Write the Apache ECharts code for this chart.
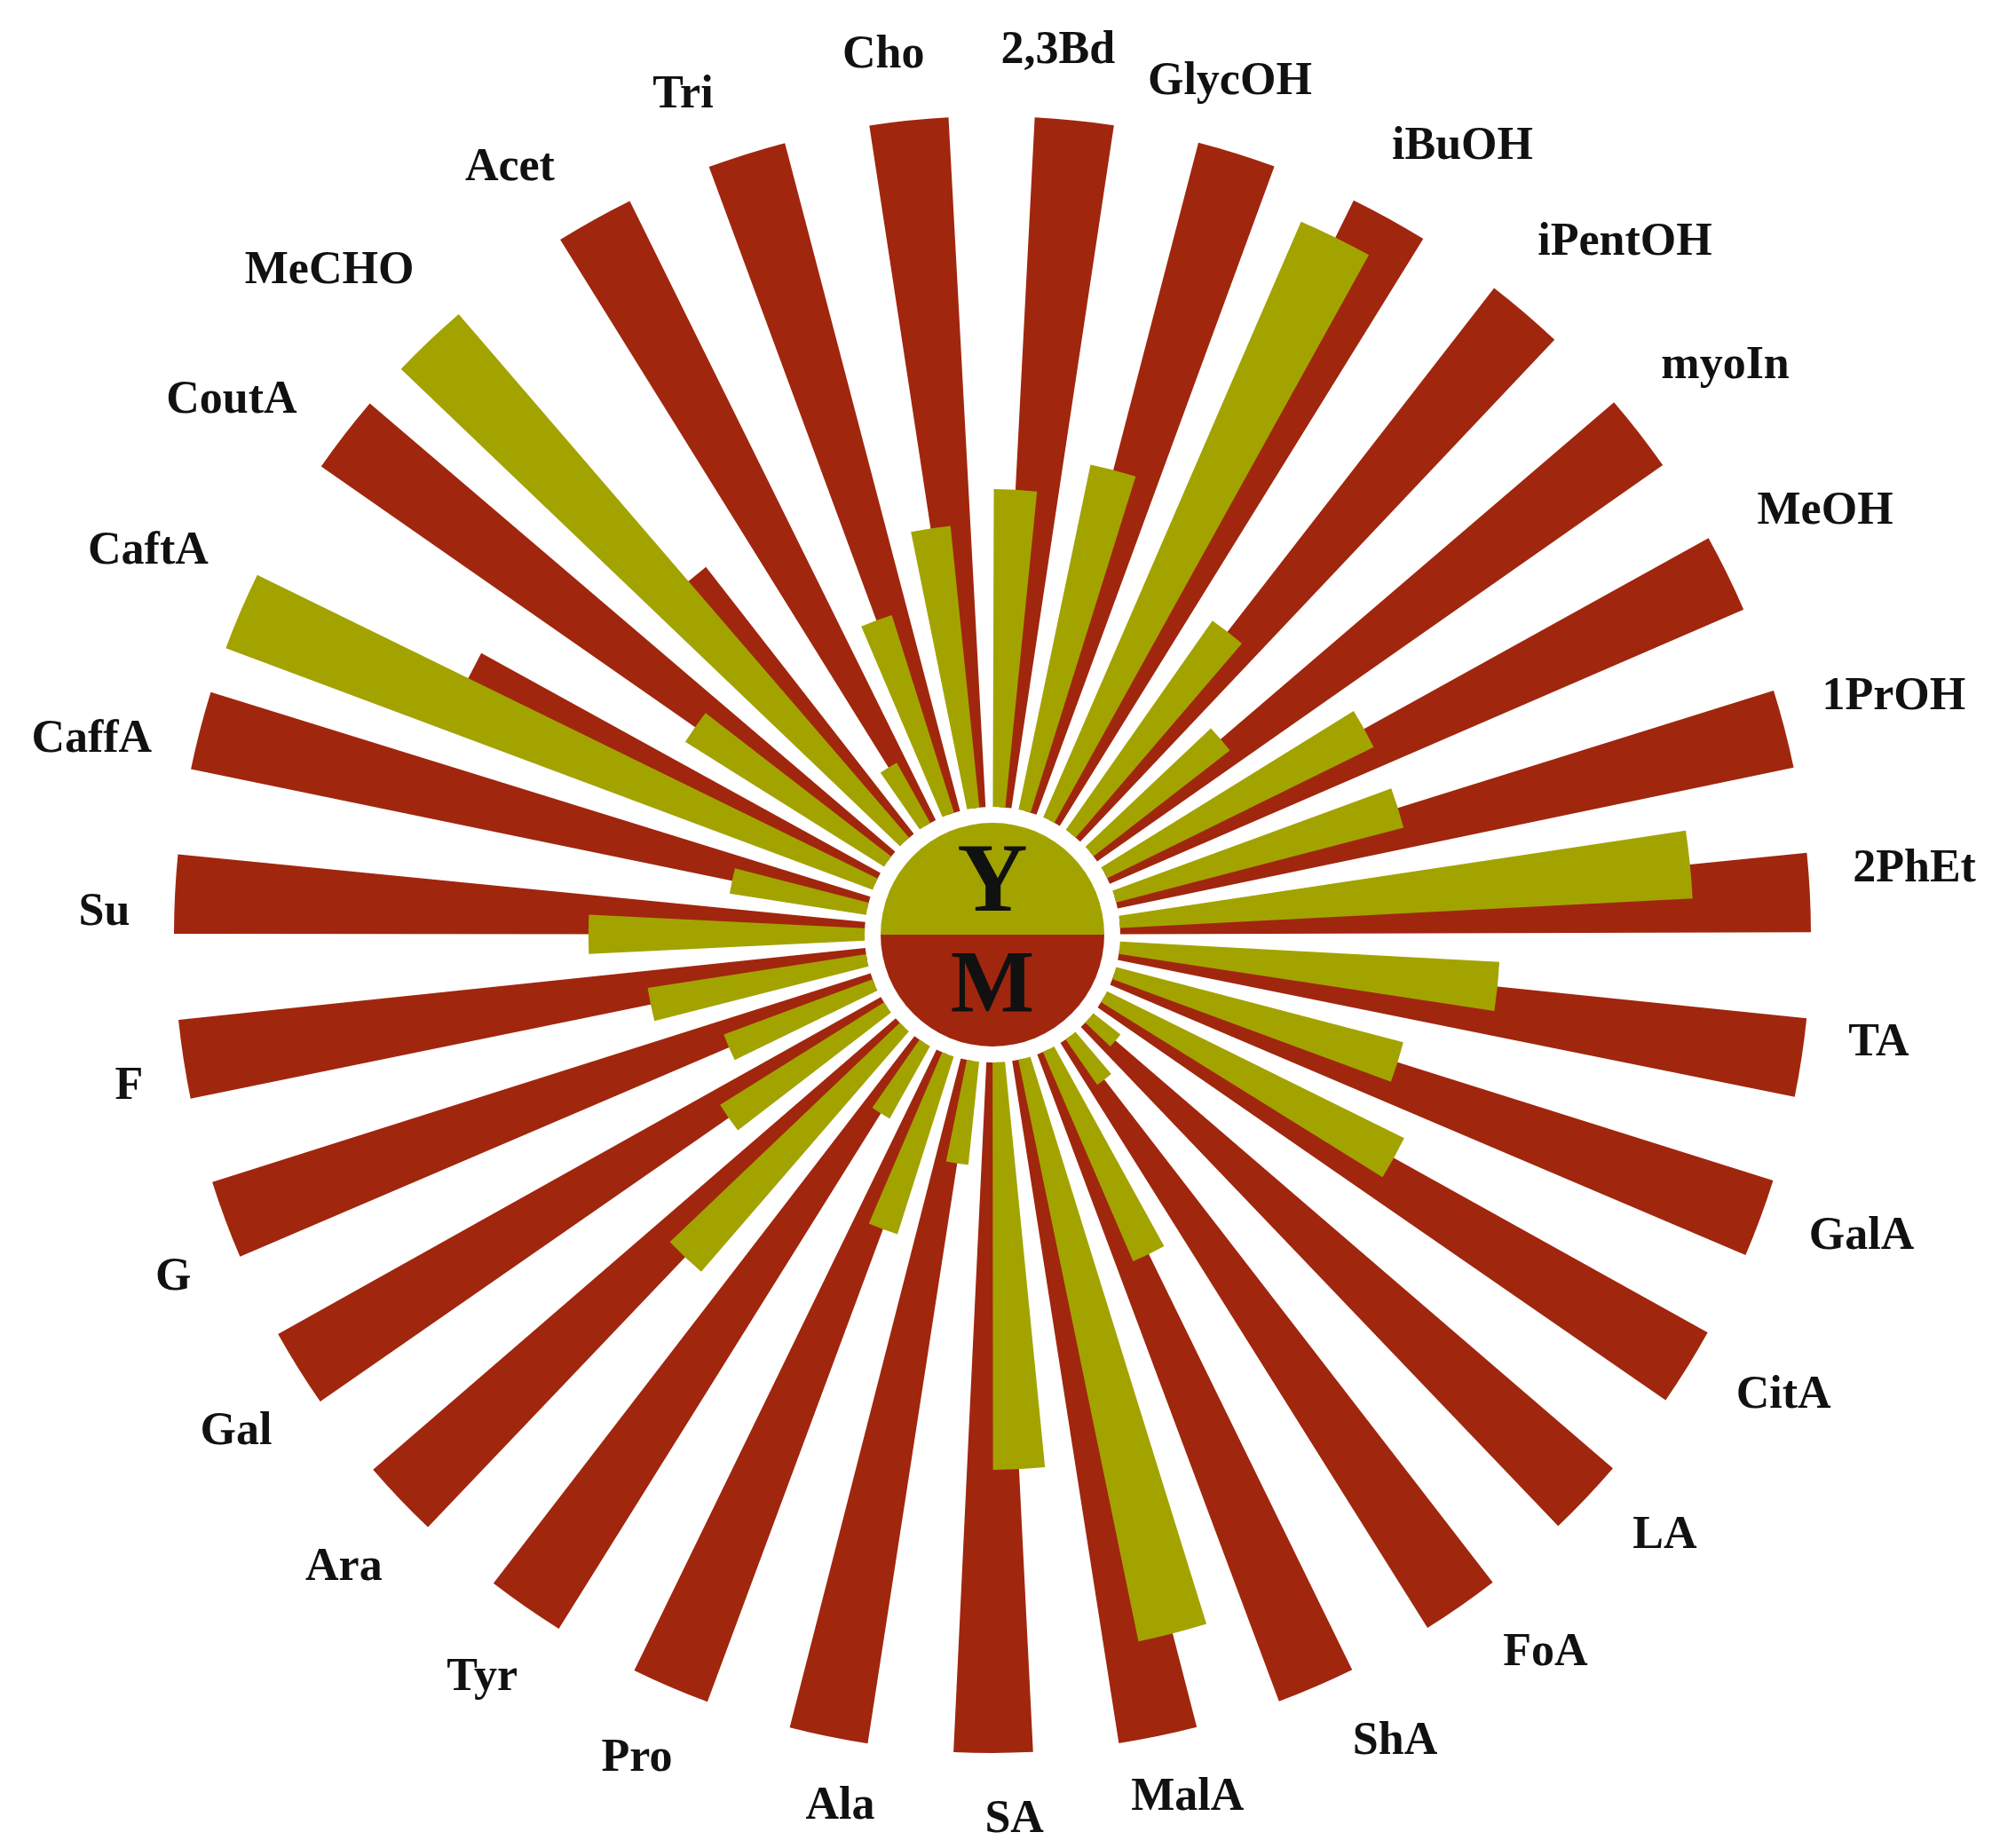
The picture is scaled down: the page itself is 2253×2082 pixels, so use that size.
<!DOCTYPE html>
<html><head><meta charset="utf-8">
<script src="https://cdn.jsdelivr.net/npm/echarts@6/dist/echarts.min.js"></script>
<style>html,body{margin:0;background:#fff}#c{width:2253px;height:2082px}</style>
</head><body><div id="c"></div>
<script>
const categories = ['2PhEt','1PrOH','MeOH','myoIn','iPentOH','iBuOH','GlycOH','2,3Bd','Cho','Tri','Acet','MeCHO','CoutA','CaftA','CaffA','Su','F','G','Gal','Ara','Tyr','Pro','Ala','SA','MalA','ShA','FoA','LA','CitA','GalA','TA'];
const mValues = [1,1,1,1,1,1,1,1,1,1,1,0.49,1,0.66,1,1,1,1,1,1,1,1,1,1,1,1,1,1,1,1,1];
const yValues = [0.83,0.43,0.43,0.25,0.37,0.94,0.51,0.46,0.41,0.30,0.10,1.0,0.34,1.0,0.2,0.40,0.32,0.23,0.28,0.46,0.12,0.27,0.15,0.59,0.86,0.33,0.08,0.05,0.48,0.43,0.55];
const RED='#A1260E', YEL='#A3A300';
const cx=1118, cy=1053;
const chart = echarts.init(document.getElementById('c'));
const step = 360/categories.length;
chart.setOption({
  animation:false,
  polar:{center:[cx,cy],radius:[144,922]},
  angleAxis:{type:'category',data:categories,clockwise:false,startAngle:-step*0.125,
    axisLine:{show:false},axisTick:{show:false},splitLine:{show:false},
    axisLabel:{interval:0,margin:50,fontFamily:'Liberation Serif',fontWeight:'bold',fontSize:52,color:'#111'}},
  radiusAxis:{min:0,max:1,axisLine:{show:false},axisTick:{show:false},axisLabel:{show:false},splitLine:{show:false}},
  series:[
    {type:'bar',coordinateSystem:'polar',data:yValues,barWidth:'48%',barGap:'-50%',itemStyle:{color:YEL},z:3},
    {type:'bar',coordinateSystem:'polar',data:mValues,barWidth:'48%',itemStyle:{color:RED},z:2}
  ],
  graphic:[
    {type:'sector',shape:{cx:cx,cy:cy,r:126,startAngle:Math.PI,endAngle:2*Math.PI},style:{fill:YEL},z:10},
    {type:'sector',shape:{cx:cx,cy:cy,r:126,startAngle:0,endAngle:Math.PI},style:{fill:RED},z:10},
    {type:'text',x:cx,y:cy-55,style:{text:'Y',fontFamily:'Liberation Serif',fontWeight:'bold',fontSize:110,fill:'#111',align:'center',verticalAlign:'middle'},z:11},
    {type:'text',x:cx,y:cy+60,style:{text:'M',fontFamily:'Liberation Serif',fontWeight:'bold',fontSize:100,fill:'#111',align:'center',verticalAlign:'middle'},z:11}
  ]
});
</script></body></html>
